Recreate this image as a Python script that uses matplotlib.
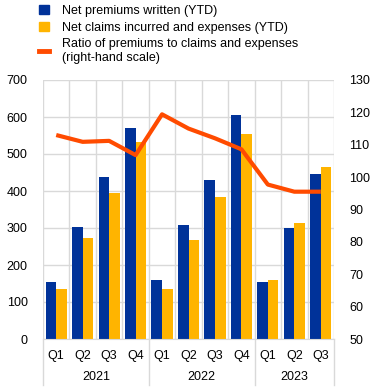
import matplotlib.pyplot as plt
import numpy as np
from matplotlib.patches import Patch
from matplotlib.lines import Line2D
from matplotlib.transforms import blended_transform_factory

plt.rcParams['font.family'] = ['Liberation Sans', 'DejaVu Sans']
plt.rcParams['font.size'] = 9

quarters = ["Q1", "Q2", "Q3", "Q4", "Q1", "Q2", "Q3", "Q4", "Q1", "Q2", "Q3"]
years = ["2021", "2022", "2023"]
year_len = [4, 4, 3]
premiums = [155, 304, 439, 571, 160, 309, 431, 605, 155, 301, 447]
claims = [136, 274, 395, 533, 136, 268, 385, 555, 160, 314, 466]
ratio = [113.0, 110.9, 111.2, 106.8, 119.4, 115.0, 112.0, 108.6, 97.7, 95.5, 95.5]

blue = "#003299"
yellow = "#FFB400"
orange = "#FF4B00"
grid_c = "#d9d9d9"

fig = plt.figure(figsize=(3.71, 3.88), dpi=100)
ax = fig.add_axes([43/371, 1-339/388, 291/371, 259/388])
x = np.arange(len(quarters))

ax.bar(x - 0.2, premiums, 0.4, color=blue, zorder=2)
ax.bar(x + 0.2, claims, 0.4, color=yellow, zorder=2)
ax.set_xlim(-0.5, len(quarters) - 0.5)
ax.set_ylim(0, 700)
ax.set_yticks(range(0, 701, 100))
ax.set_xticks(x)
ax.set_xticklabels(quarters)
ax.set_xticks(np.arange(-0.5, len(quarters), 1), minor=True)
ax.grid(axis="y", color=grid_c, lw=1, zorder=0)
ax.grid(axis="x", which="minor", color=grid_c, lw=1, zorder=0)
ax.grid(axis="x", which="major", visible=False)
for s in ["left", "right", "top"]:
    ax.spines[s].set_visible(False)
ax.spines["bottom"].set_color(grid_c)
ax.tick_params(which="both", length=0)
ax.tick_params(axis="y", pad=11)
ax.tick_params(axis="x", pad=8)

ax2 = ax.twinx()
ax2.plot(x, ratio, color=orange, lw=3, solid_capstyle="butt", zorder=3)
ax2.set_ylim(50, 130)
ax2.set_yticks(range(50, 131, 10))
for s in ax2.spines.values():
    s.set_visible(False)
ax2.tick_params(length=0, pad=11)

# year labels and separators
tr = blended_transform_factory(ax.transData, ax.transAxes)
start = -0.5
for yr, n in zip(years, year_len):
    ax.text(start + n / 2, -38/259, yr, transform=tr, ha="center", va="center")
    start += n
bounds = np.cumsum([0] + year_len) - 0.5
for b in bounds:
    ax.plot([b, b], [0, -46/259], transform=tr, color=grid_c, lw=1, clip_on=False)

handles = [Patch(color=blue), Patch(color=yellow),
           Line2D([0], [0], color=orange, lw=3.5)]
labels = ["Net premiums written (YTD)", "Net claims incurred and expenses (YTD)",
          "Ratio of premiums to claims and expenses\n(right-hand scale)"]
fig.legend(handles, labels, loc="upper left", bbox_to_anchor=(38/371, 1 - 3.5/388),
           frameon=False, handlelength=0.8, handleheight=0.8, handletextpad=1.0,
           labelspacing=0.38, borderaxespad=0, borderpad=0.1)

fig.savefig("out.png", dpi=100)
